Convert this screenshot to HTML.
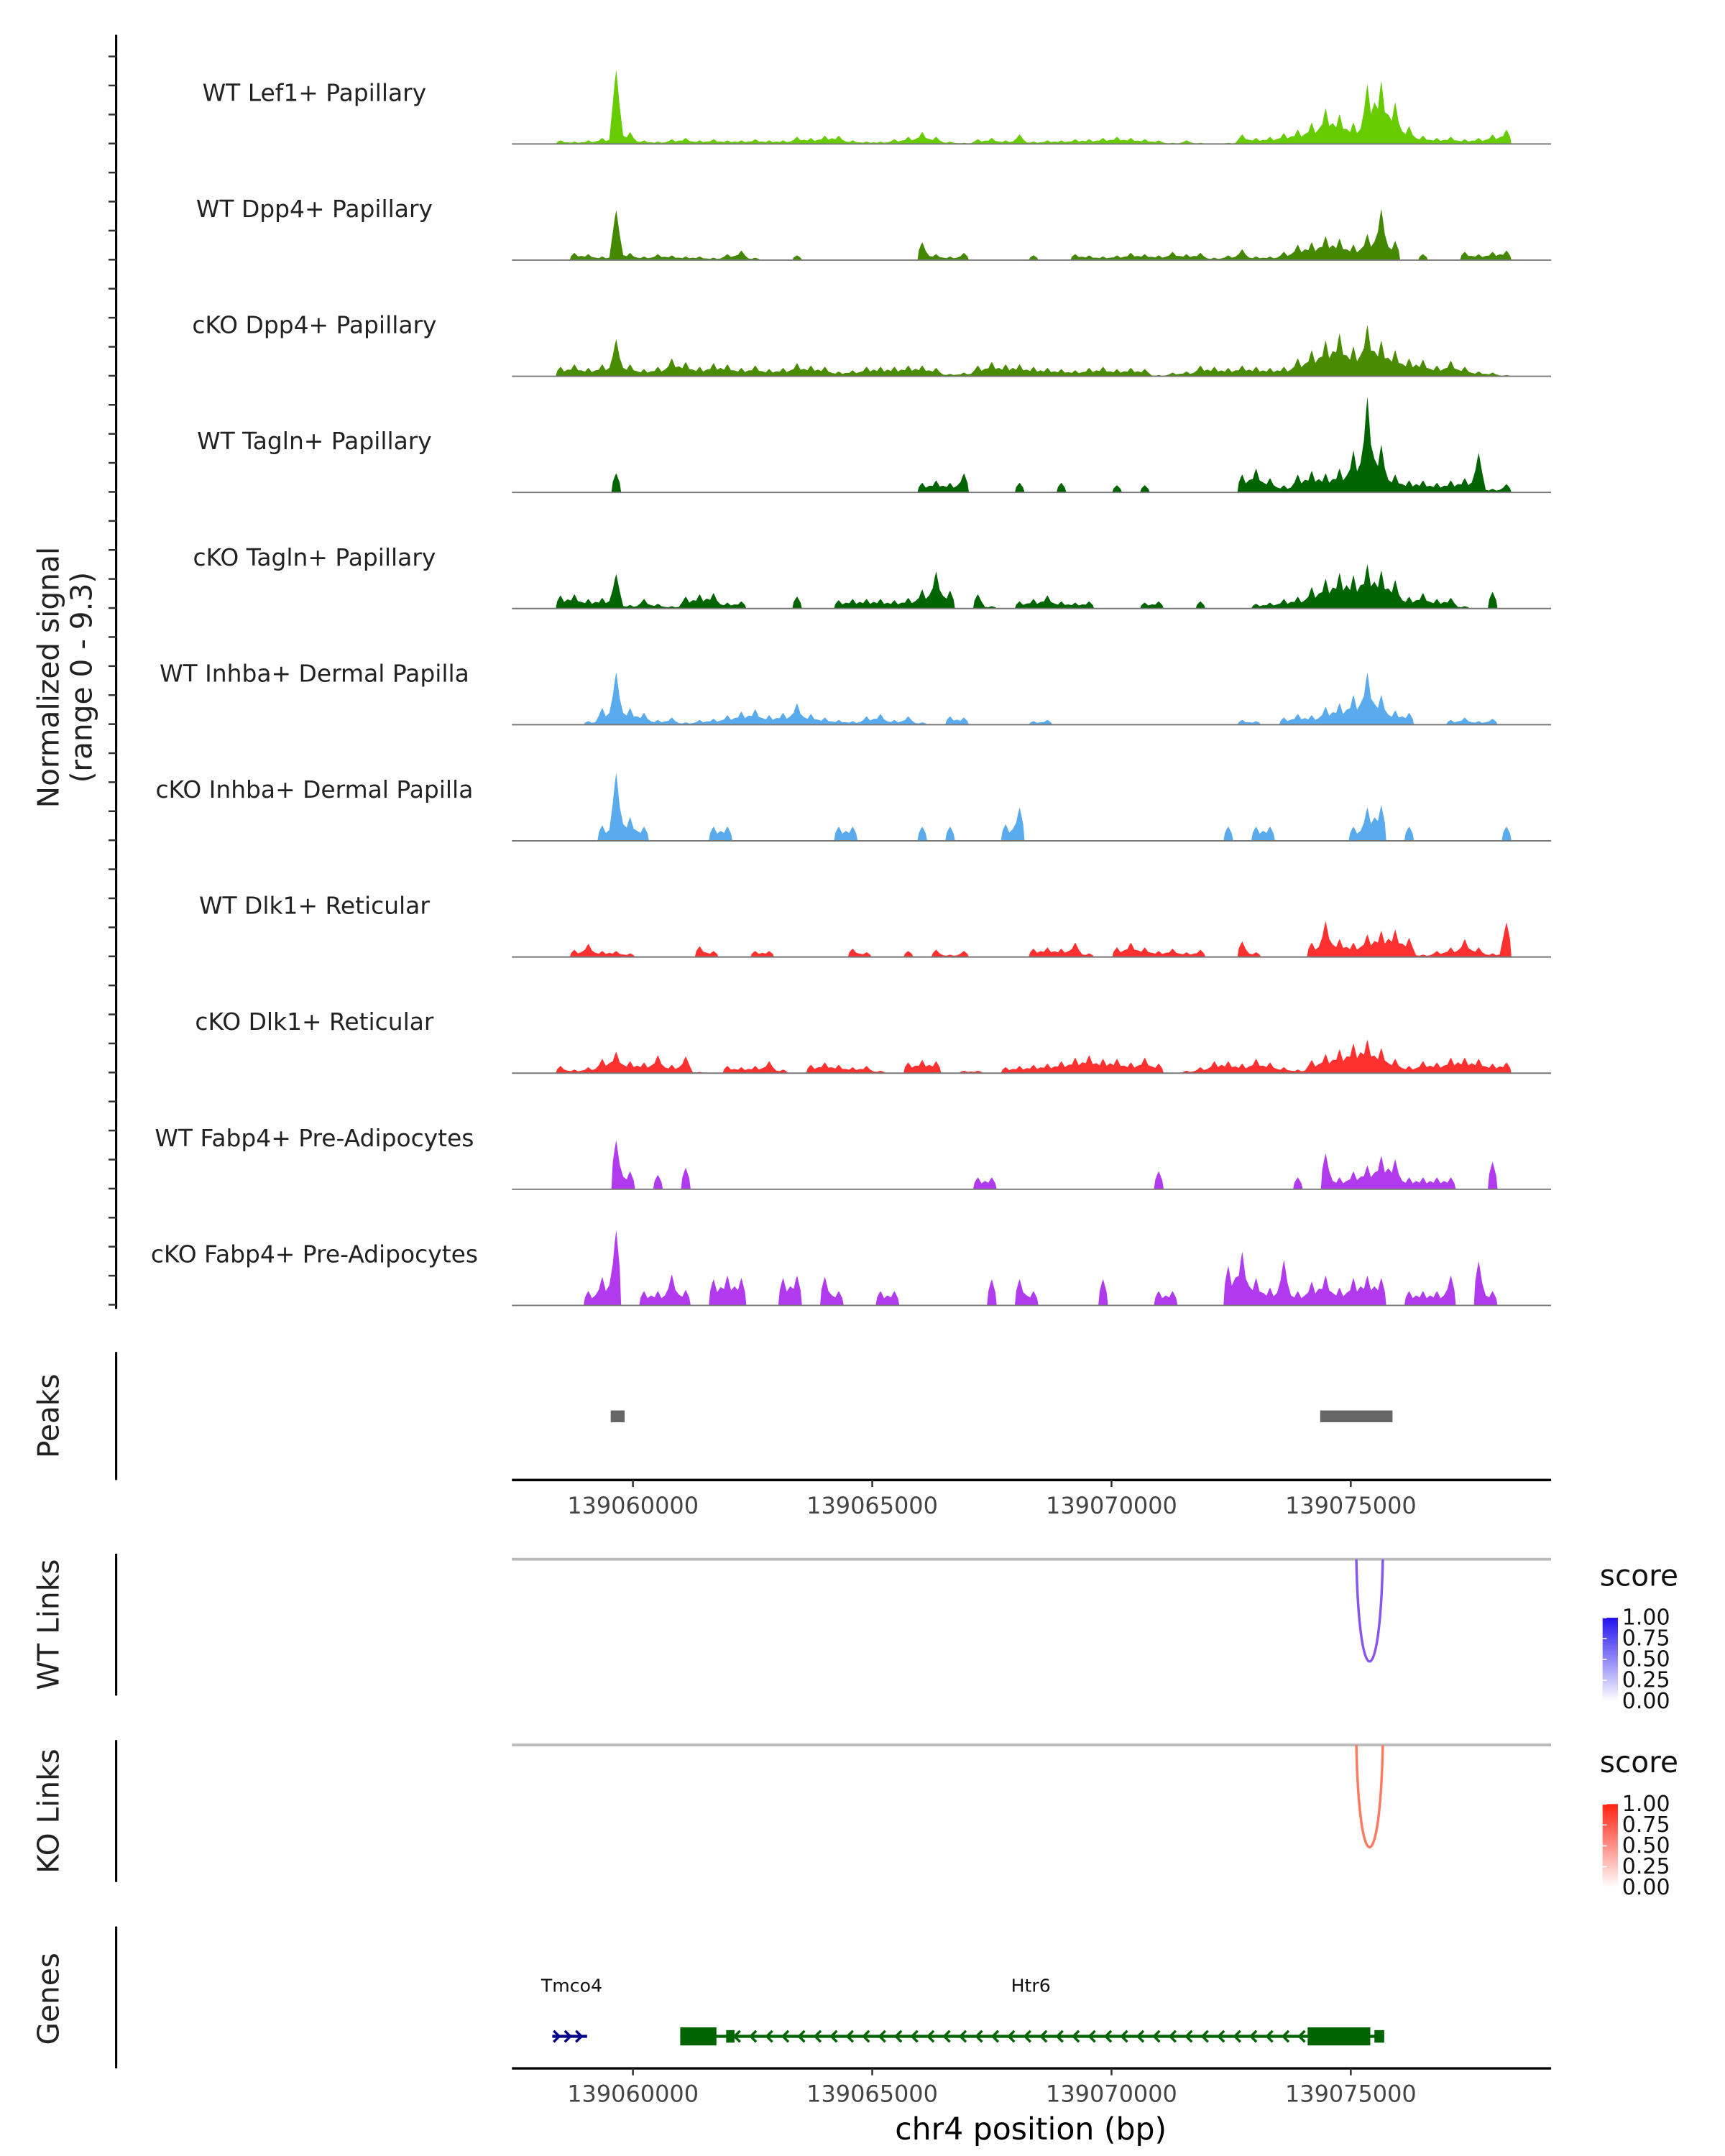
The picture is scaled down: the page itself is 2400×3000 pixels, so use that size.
<!DOCTYPE html>
<html><head><meta charset="utf-8"><style>
html,body{margin:0;padding:0;background:#fff}
svg{display:block;font-family:"DejaVu Sans","Liberation Sans",sans-serif}
</style></head><body>
<svg id="fig" width="2400" height="3000" viewBox="0 0 1240 1550" xmlns="http://www.w3.org/2000/svg">
<g id="g-static">
<text transform="translate(42,487) rotate(-90)" text-anchor="middle" font-size="21" fill="#222">Normalized signal</text>
<text transform="translate(66,487) rotate(-90)" text-anchor="middle" font-size="21" fill="#222">(range 0 - 9.3)</text>
<text transform="translate(42,1018) rotate(-90)" text-anchor="middle" font-size="21" fill="#222">Peaks</text>
<text transform="translate(42,1168) rotate(-90)" text-anchor="middle" font-size="21" fill="#222">WT Links</text>
<text transform="translate(42,1302) rotate(-90)" text-anchor="middle" font-size="21" fill="#222">KO Links</text>
<text transform="translate(42,1437) rotate(-90)" text-anchor="middle" font-size="21" fill="#222">Genes</text>
<line x1="83.5" y1="25" x2="83.5" y2="941" stroke="#000" stroke-width="1.6"/>
<line x1="83.5" y1="972" x2="83.5" y2="1064" stroke="#000" stroke-width="1.6"/>
<line x1="83.5" y1="1117" x2="83.5" y2="1219" stroke="#000" stroke-width="1.6"/>
<line x1="83.5" y1="1251" x2="83.5" y2="1353" stroke="#000" stroke-width="1.6"/>
<line x1="83.5" y1="1385" x2="83.5" y2="1487" stroke="#000" stroke-width="1.6"/>
<text x="741" y="1538" text-anchor="middle" font-size="22" fill="#000">chr4 position (bp)</text>
<defs>
<linearGradient id="gb" x1="0" y1="1" x2="0" y2="0"><stop offset="0" stop-color="#fff"/><stop offset="1" stop-color="#2211ee"/></linearGradient>
<linearGradient id="gr" x1="0" y1="1" x2="0" y2="0"><stop offset="0" stop-color="#fff"/><stop offset="1" stop-color="#ff2211"/></linearGradient>
</defs>
</g>
<g id="g-dyn"></g>
</svg>
<script>
const trackNames = ["WT Lef1+ Papillary","WT Dpp4+ Papillary","cKO Dpp4+ Papillary","WT Tagln+ Papillary","cKO Tagln+ Papillary","WT Inhba+ Dermal Papilla","cKO Inhba+ Dermal Papilla","WT Dlk1+ Reticular","cKO Dlk1+ Reticular","WT Fabp4+ Pre-Adipocytes","cKO Fabp4+ Pre-Adipocytes"];
const trackColors = ["#66cc00","#448800","#4a8c00","#006400","#006400","#5aaaee","#5aaaee","#ff3030","#ff3030","#b23aee","#b23aee"];
const sigLef1 = [0,0,0,0.3,0.2,0.3,0.5,6.2,1.0,0.3,0.2,0.4,0.5,0.3,0.4,0.3,0.3,0.4,0.3,0.3,0.6,0.5,0.7,0.7,0.3,0.2,0.2,0.4,0.6,1.0,0.6,0.2,0.1,0.4,0.5,0.3,0.8,0.2,0.3,0.3,0.4,0.4,0.5,0.6,0.5,0.4,0.3,0.1,0.3,0.1,0,0.1,0.8,0.5,0.6,0.9,1.2,1.8,3.0,2.5,1.8,5.0,5.3,3.5,1.5,0.7,0.5,0.6,0.4,0.5,0.8,1.2,0,0,0];
const sigWtDpp4 = [0,0,0,0,0.6,0.5,0.3,4.2,0.6,0.3,0.5,0.4,0.3,0.3,0.2,0.5,0.8,0.2,0,0,0.4,0,0,0,0,0,0,0,0,1.5,0.5,0.3,0.6,0,0,0,0,0.4,0,0,0.5,0.4,0.3,0.4,0.6,0.5,0.4,0.7,0.5,0.6,0.2,0.4,0.9,0.3,0.3,0.7,1.3,1.5,2.0,1.8,1.3,2.2,4.3,1.6,0,0.5,0,0,0.7,0.5,0.7,0.8,0,0,0];
const sigKoDpp4 = [0,0,0,0.8,1.0,0.7,1.0,3.1,1.0,0.6,0.8,1.5,1.2,0.8,1.1,1.0,0.7,0.9,0.6,0.7,1.1,0.9,0.8,0.4,0.5,0.8,0.8,0.8,0.9,0.9,0.7,0.2,0.3,0.9,1.2,1.0,1.0,0.8,0.7,0.6,0.5,0.7,0.8,0.6,0.7,0.6,0.1,0.3,0.4,0.9,0.8,0.7,0.9,0.8,0.7,0.8,1.5,2.2,3.0,3.6,2.5,4.3,3.0,2.2,1.5,1.4,0.9,1.3,0.8,0.4,0.3,0.1,0,0,0];
const sigWtTagln = [0,0,0,0,0,0,0,1.6,0,0,0,0,0,0,0,0,0,0,0,0,0,0,0,0,0,0,0,0,0,0.8,1.0,0.8,1.6,0,0,0,0.8,0,0,0.8,0,0,0,0.6,0,0.6,0,0,0,0,0,0,1.5,2.0,1.2,0.6,1.5,1.8,1.6,2.0,3.5,8.0,4.0,1.5,1.0,1.0,0.8,1.0,1.2,3.3,0.3,0.7,0,0,0];
const sigKoTagln = [0,0,0,1.1,1.2,0.8,0.9,2.9,0.3,0.8,0.4,0.2,1.0,1.2,1.3,0.5,0.6,0,0,0,1.0,0,0,0.7,0.8,0.8,0.8,0.7,0.9,1.6,3.1,1.5,0,1.2,0.2,0,0.6,0.8,1.1,0.6,0.5,0.6,0,0,0,0.5,0.6,0,0,0.6,0,0,0,0.4,0.5,0.8,1.0,1.8,2.5,3.0,2.8,3.7,3.2,2.4,1.0,1.3,0.8,0.9,0.2,0,1.4,0,0,0,0];
const sigWtInhba = [0,0,0,0,0,0.3,1.4,4.4,1.4,1.0,0.4,0.6,0.2,0.4,0.5,0.8,1.1,1.3,0.8,1.0,1.8,0.9,0.6,0.4,0.3,0.7,0.9,0.4,0.7,0.2,0,0.7,0.6,0,0,0,0,0.3,0.4,0,0,0,0,0,0,0,0,0,0,0,0,0,0.4,0.3,0,0.6,0.9,0.8,1.5,1.8,2.5,4.4,2.5,1.2,1.0,0,0,0.4,0.6,0.3,0.5,0,0,0,0];
const sigKoInhba = [0,0,0,0,0,0,1.3,5.7,2.0,1.2,0,0,0,0,1.2,1.2,0,0,0,0,0,0,0,1.2,1.2,0,0,0,0,1.2,0,1.2,0,0,0,1.4,2.8,0,0,0,0,0,0,0,0,0,0,0,0,0,0,1.2,0,1.2,1.2,0,0,0,0,0,1.2,2.8,3.0,0,1.2,0,0,0,0,0,0,1.2,0,0,0];
const sigWtDlk1 = [0,0,0,0,0.6,1.1,0.5,0.5,0.3,0,0,0,0,0.9,0.5,0,0,0.5,0.5,0,0,0,0,0,0.7,0.4,0,0,0.5,0,0.6,0.2,0.5,0,0,0,0,0.7,0.8,0.7,1.2,0.3,0,0.8,1.2,0.8,0.5,0.7,0.4,0.6,0,0,1.3,0.4,0,0,0,1.2,3.0,1.5,1.2,1.9,2.2,2.3,1.6,0.2,0.5,0.8,1.5,0.8,0.3,2.9,0,0,0];
const sigKoDlk1 = [0,0,0,0.6,0.3,0.5,1.2,1.8,1.0,0.9,1.5,0.7,1.4,0.1,0,0.6,0.5,0.6,1.0,0.3,0,0.7,0.9,0.7,0.5,0.6,0.2,0,0.9,1.1,1.0,0,0.2,0.2,0,0.5,0.6,0.7,0.8,1.0,1.3,1.5,1.2,1.2,0.9,1.3,0.8,0,0.2,0.5,1.0,1.0,0.8,1.2,0.9,0.5,0.3,1.1,1.6,2.0,2.5,2.8,2.1,1.2,0.6,1.0,0.9,1.3,1.3,1.2,0.8,0.9,0,0,0];
const sigWtFabp4 = [0,0,0,0,0,0,0,4.1,1.5,0,1.2,0,1.8,0,0,0,0,0,0,0,0,0,0,0,0,0,0,0,0,0,0,0,0,1.0,1.0,0,0,0,0,0,0,0,0,0,0,0,1.5,0,0,0,0,0,0,0,0,0,1.0,0,3.0,1.0,1.5,2.0,2.8,2.5,1.0,1.0,1.0,1.0,0,0,2.3,0,0,0,0];
const sigKoFabp4 = [0,0,0,0,0,1.2,2.4,6.3,0,1.2,1.2,2.6,1.3,0,2.2,2.5,2.3,0,0,2.3,2.5,0,2.4,1.2,0,0,1.2,1.2,0,0,0,0,0,0,2.2,0,2.2,1.2,0,0,0,0,2.2,0,0,0,1.2,1.2,0,0,0,3.3,4.5,2.3,1.5,3.8,1.2,2.0,2.5,1.5,2.3,2.5,2.3,0,1.2,1.2,1.2,2.5,0,3.7,1.2,0,0,0,0];
const signals = [sigLef1,sigWtDpp4,sigKoDpp4,sigWtTagln,sigKoTagln,sigWtInhba,sigKoInhba,sigWtDlk1,sigKoDlk1,sigWtFabp4,sigKoFabp4];
const xTicks = [139060000,139065000,139070000,139075000];
const xTickLabels = ["139060000","139065000","139070000","139075000"];
const peakStarts = [139059535,139074360];
const peakEnds = [139059826,139075872];
const wtLinkStart = [139075116]; const wtLinkEnd = [139075669]; const wtLinkScore = [0.6];
const koLinkStart = [139075116]; const koLinkEnd = [139075669]; const koLinkScore = [0.55];
const legendTicks = [0,0.25,0.5,0.75,1];
const legendLabels = ["0.00","0.25","0.50","0.75","1.00"];
const geneNames = ["Tmco4","Htr6"];
const geneStarts = [139058314,139060988];
const geneEnds = [139059041,139075698];
const geneStrand = ["+","-"];
const htr6ExonStarts = [139060988,139061948,139074099,139075494];
const htr6ExonEnds = [139061744,139062122,139075407,139075698];
const htr6ExonThick = [1,0,1,0];
const binStartBp = 139057471, binSizeBp = 290.7, yMax = 9.3;

const NS='http://www.w3.org/2000/svg';
const G=document.getElementById('g-dyn');
function mk(tag,attrs,parent){const e=document.createElementNS(NS,tag);for(const k in attrs)e.setAttribute(k,attrs[k]);(parent||G).appendChild(e);return e;}
const X0=368,X1=1115;
function xs(bp){return 455+(bp-139060000)*172/5000;}
const trackH=83.5, base0=103.5;
function ys(v,b){return b - v/yMax*80;}

for(let k=0;k<44;k++){const y=938-k*20.87;
const t=mk('line',{x1:78,x2:83.5,y1:y,y2:y,stroke:'#333','stroke-width':1.3});

}

signals.forEach((arr,i)=>{
  const b=base0+i*trackH;
  const g=mk('g',{});
  
  
  const lab=mk('text',{x:226,y:b-31,'text-anchor':'middle','font-size':17,fill:'#222'},g);
  lab.textContent=trackNames[i];
  
  
  let pts=[[xs(binStartBp),b]];
  arr.forEach((v,j)=>{const xa=xs(binStartBp+j*binSizeBp), xb=xs(binStartBp+(j+1)*binSizeBp);
    const xc=(xa+xb)/2;
    const prev=j>0?arr[j-1]:0, next=j<arr.length-1?arr[j+1]:0;
    if(v>0){
      const le=prev>0?Math.min(prev,v)*0.7:0, re=next>0?Math.min(next,v)*0.7:0;
      pts.push([xa+(prev>0?0:1.5),ys(le,b)]);
      pts.push([xa+2.5,ys(v*0.55,b)],[xc-1,ys(v*0.85,b)],[xc,ys(v,b)],[xc+1,ys(v*0.8,b)],[xb-2.5,ys(v*0.5,b)]);
      pts.push([xb-(next>0?0:1.5),ys(re,b)]);
    } else pts.push([xa,b],[xb,b]);});
  pts.push([pts[pts.length-1][0],b]);
  const p=mk('polygon',{points:pts.map(q=>q[0].toFixed(1)+','+q[1].toFixed(1)).join(' '),fill:trackColors[i]},g);
  
  
  const bl=mk('line',{x1:X0,x2:X1,y1:b,y2:b,stroke:'#777','stroke-width':1},g);
  
  
});

peakStarts.forEach((s,i)=>{const r=mk('rect',{x:xs(s),y:1014,width:xs(peakEnds[i])-xs(s),height:8.5,fill:'#666'});

});

function axis(y,name){const g=mk('g',{});


mk('line',{x1:X0,x2:X1,y1:y,y2:y,stroke:'#000','stroke-width':1.8},g);
xTicks.forEach((t,i)=>{mk('line',{x1:xs(t),x2:xs(t),y1:y,y2:y+5,stroke:'#333','stroke-width':1.3},g);
const tx=mk('text',{x:xs(t),y:y+24,'text-anchor':'middle','font-size':16.5,fill:'#444'},g);tx.textContent=xTickLabels[i];

});}
axis(1064,'peaks-x-axis');
axis(1487,'genes-x-axis');

function links(top,starts,ends,scores,col,grad,legY,name){
  const g=mk('g',{});
  
  
  mk('line',{x1:X0,x2:X1,y1:top,y2:top,stroke:'#bbb','stroke-width':2},g);
  starts.forEach((s,i)=>{const a=xs(s),c=xs(ends[i]),d=top+94;
    const p=mk('path',{d:`M${a},${top} C${a+2},${d+4} ${c-2},${d+4} ${c},${top}`,fill:'none',stroke:col,'stroke-width':1.8},g);
    
    });
  const st=mk('text',{x:1150,y:legY,'font-size':21,fill:'#111'},g);st.textContent='score';
  
  
  const bt=legY+23,bh=60;
  const r=mk('rect',{x:1152,y:bt,width:11,height:bh,fill:`url(#${grad})`},g);
  
  
  legendTicks.forEach((t,i)=>{const y=bt+bh-t*bh;
    mk('line',{x1:1152,x2:1155,y1:y,y2:y,stroke:'#fff','stroke-width':0.8},g);
    const tx=mk('text',{x:1166,y:y+5,'font-size':15.5,fill:'#111'},g);tx.textContent=legendLabels[i];
    
    });
}
links(1121,wtLinkStart,wtLinkEnd,wtLinkScore,'#8855ee','gb',1140,'wt-links-track');
links(1254.5,koLinkStart,koLinkEnd,koLinkScore,'#ff7a60','gr',1274,'ko-links-track');

const gy=1464;
const gg=mk('g',{});


geneNames.forEach((n,i)=>{const a=xs(geneStarts[i]),c=xs(geneEnds[i]);
  const t=mk('text',{x:i==0?411:741,y:1432,'text-anchor':'middle','font-size':13,fill:'#111'},gg);t.textContent=n;
  
  
  const col=i==0?'#00008b':'#006400';
  mk('line',{x1:a,x2:c,y1:gy,y2:gy,stroke:col,'stroke-width':2.2},gg);
  if(geneStrand[i]=='+'){for(let x=a+4;x<c;x+=8){mk('path',{d:`M${x-3},${gy-4} L${x+1},${gy} L${x-3},${gy+4}`,fill:'none',stroke:col,'stroke-width':1.8},gg);}}
  else{for(let x=a+40;x<c-55;x+=11.6){mk('path',{d:`M${x+3},${gy-4} L${x-1},${gy} L${x+3},${gy+4}`,fill:'none',stroke:col,'stroke-width':1.8},gg);}}
});
htr6ExonStarts.forEach((s,i)=>{const h=htr6ExonThick[i]?13:9;
  const r=mk('rect',{x:xs(s),y:gy-h/2,width:xs(htr6ExonEnds[i])-xs(s),height:h,fill:'#006400'},gg);
  
  });
</script>
</body></html>
